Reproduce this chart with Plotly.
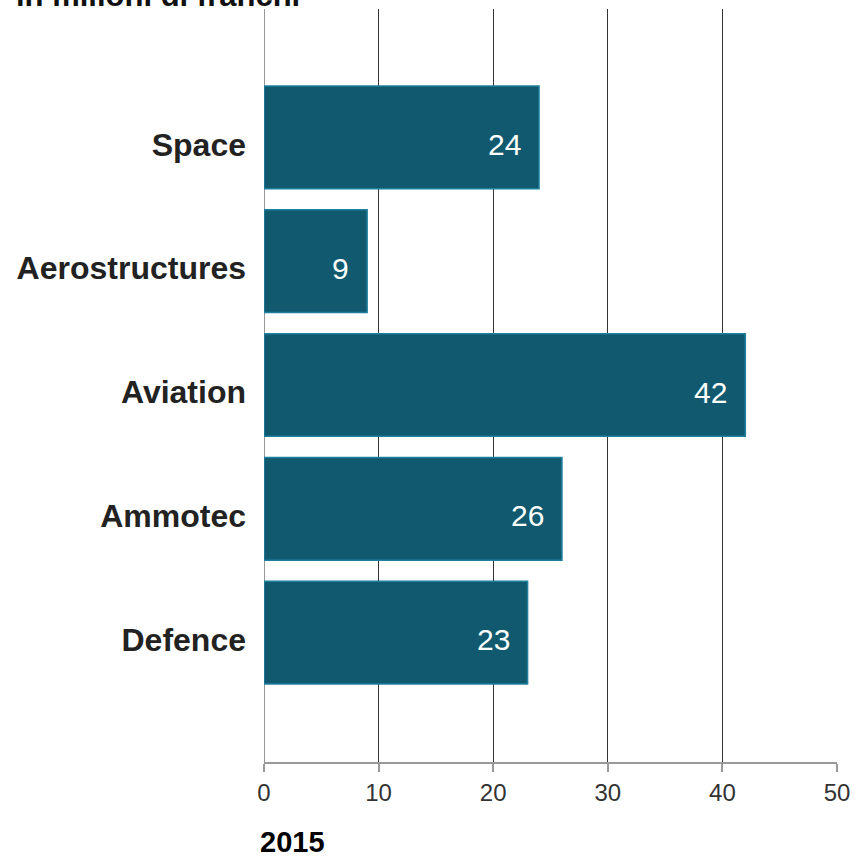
import plotly.graph_objects as go

categories = ["Space", "Aerostructures", "Aviation", "Ammotec", "Defence"]
values = [24, 9, 42, 26, 23]
tick_vals = [0, 10, 20, 30, 40, 50]
title_text = "in milioni di franchi"
year_text = "2015"

BAR = "#10596f"
EDGE = "#1e7f9e"
FONT = "Liberation Sans, Arial, sans-serif"

fig = go.Figure()
fig.add_trace(go.Bar(
    x=values, y=categories, orientation="h",
    marker=dict(color=BAR, line=dict(color=EDGE, width=1.5)),
    width=0.83, hoverinfo="skip", showlegend=False,
))

for c, v in zip(categories, values):
    fig.add_annotation(
        x=v, y=c, xref="x", yref="y", text=str(v), showarrow=False,
        xanchor="right", yanchor="middle", xshift=-16, yshift=-7,
        font=dict(family=FONT, size=30, color="white"),
    )

fig.add_annotation(
    x=0, y=1, xref="paper", yref="paper", text="<b>%s</b>" % title_text,
    showarrow=False, xanchor="left", yanchor="bottom", xshift=-250, yshift=-6,
    font=dict(family=FONT, size=31, color="#111111"),
)
fig.add_annotation(
    x=0, y=0, xref="paper", yref="paper", text="<b>%s</b>" % year_text,
    showarrow=False, xanchor="left", yanchor="top", xshift=-6, yshift=-62,
    font=dict(family=FONT, size=29, color="#000000"),
)

fig.update_layout(
    width=855, height=858,
    margin=dict(l=264, r=18, t=9, b=96),
    paper_bgcolor="white", plot_bgcolor="white",
    bargap=0.17,
    xaxis=dict(
        range=[0, 50], tickvals=tick_vals, showgrid=True, automargin=False,
        gridcolor="#333333", gridwidth=1, zeroline=False,
        showline=True, linecolor="#999999", linewidth=1.5,
        ticks="outside", ticklen=8, tickcolor="#999999", tickwidth=1.5,
        tickfont=dict(family=FONT, size=24, color="#333333"),
        fixedrange=True,
    ),
    yaxis=dict(
        type="category", categoryorder="array", categoryarray=categories,
        range=[5.046, -1.038], showgrid=False, zeroline=False, automargin=False,
        showline=False, ticks="", ticklabelstandoff=17,
        ticklabelshift=-7,
        tickfont=dict(family=FONT, size=32, color="#222222", weight="bold"),
        fixedrange=True,
    ),
)
fig.add_shape(type="line", xref="x", yref="paper", x0=0, x1=0, y0=0, y1=1,
              line=dict(color="#333333", width=1), layer="below")

fig.write_html(
    "out.html",
    config={"displayModeBar": False},
    post_script="document.body.style.margin='0';document.body.style.overflow='hidden';",
)
